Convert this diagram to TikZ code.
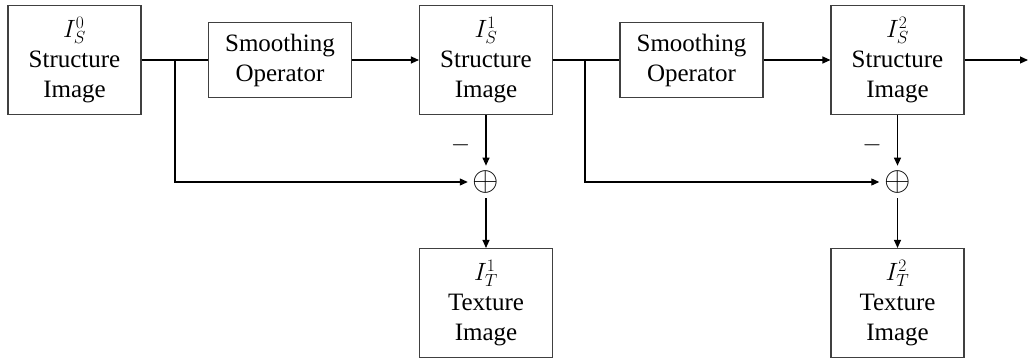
\documentclass[tikz,border=0pt]{standalone}
\usepackage{fix-cm}
\usepackage{fontspec}
\setmainfont{Liberation Serif}
\usetikzlibrary{arrows.meta}
\begin{document}
\begin{tikzpicture}[x=1pt,y=1pt,
    line width=1.1pt,
    font=\rmfamily\fontsize{25}{30}\selectfont,
    imgbox/.style={draw=black!75,align=center,minimum width=133pt,minimum height=109pt,inner sep=0pt},
    opbox/.style={draw=black!75,align=center,minimum width=143pt,minimum height=75pt,inner sep=0pt},
    sumnode/.style={inner sep=0pt,outer sep=5pt,font=\fontsize{34}{34}\selectfont},
    arr/.style={-{Triangle[length=8pt,width=7pt]}}]
    \useasboundingbox (0,0) rectangle (1030,360);

        \node[imgbox] (s0) at (74.5,300) {$I_S^0$\\Structure\\Image};
        \node[opbox] (sm1) at (280,300) {Smoothing\\Operator};
        \node[imgbox] (s1) at (486,300) {$I_S^1$\\Structure\\Image};
        \node[opbox] (sm2) at (691.5,300) {Smoothing\\Operator};
        \node[imgbox] (s2) at (897.5,300) {$I_S^2$\\Structure\\Image};

        \node[sumnode] (add1) at (486,178) {$\oplus$};
        \node[sumnode] (add2) at (897.5,178) {$\oplus$};
        \node at (460.5,215) {$-$};
        \node at (872,215) {$-$};

        \node[imgbox] (t1) at (486,57) {$I_T^1$\\Texture\\Image};
        \node[imgbox] (t2) at (897.5,57) {$I_T^2$\\Texture\\Image};

        \coordinate (b1) at (175,300);
        \coordinate (b2) at (585,300);
        \coordinate (out) at (1028,300);

        \draw (s0) -- (sm1);
        \draw[arr] (sm1) -- (s1);
        \draw (s1) -- (sm2);
        \draw[arr] (sm2) -- (s2);
        \draw[arr] (s2) -- (out);

        \draw[arr] (b1) |- (add1);
        \draw[arr] (b2) |- (add2);
        \draw[arr] (s1) -- (add1);
        \draw[arr] (s2) -- (add2);
        \draw[arr] (add1) -- (t1);
        \draw[arr] (add2) -- (t2);
    \end{tikzpicture}
\end{document}
